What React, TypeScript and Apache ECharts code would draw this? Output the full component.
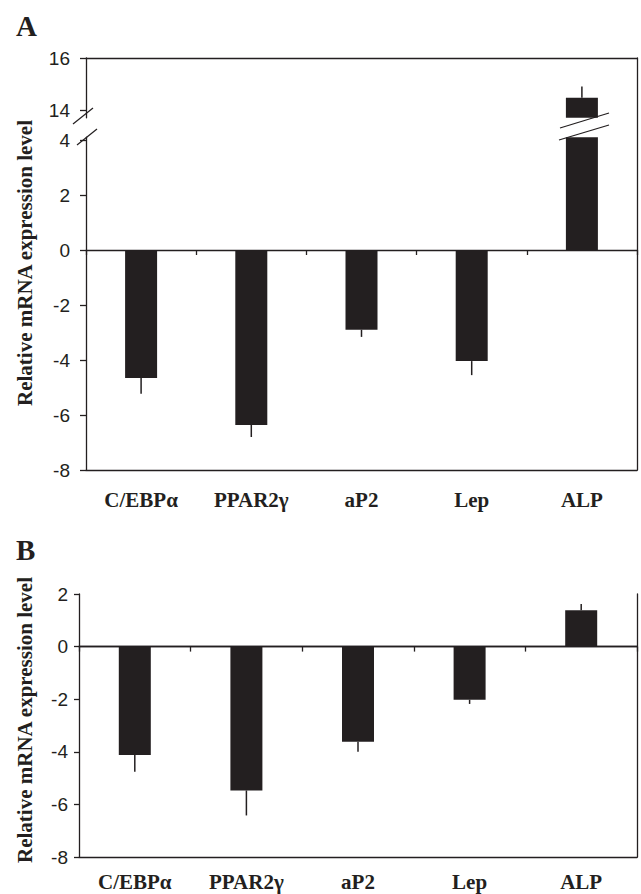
import React, { useEffect, useRef } from "react";
import * as echarts from "echarts";

const categories = ["C/EBPα", "PPAR2γ", "aP2", "Lep", "ALP"];
// Panel A (ALP is on the upper, broken segment)
const valuesA = [-4.65, -6.36, -2.9, -4.04, 14.47];
const errorsA = [0.58, 0.44, 0.26, 0.51, 0.43];
// Panel B
const valuesB = [-4.12, -5.47, -3.62, -2.02, 1.38];
const errorsB = [0.64, 0.95, 0.38, 0.16, 0.24];

const ticksAUpper = [14, 16];
const ticksALower = [-8, -6, -4, -2, 0, 2, 4];
const ticksB = [-8, -6, -4, -2, 0, 2];

const INK = "#231f20";
const SANS = "Liberation Sans, Arial, sans-serif";
const SERIF = "Liberation Serif, Times New Roman, serif";

const lineStyle = { color: INK, width: 1.3 };

function errData(values: number[], errors: number[], keep: (i: number) => boolean) {
  const out: any[] = [];
  values.forEach((v, i) => {
    if (!keep(i)) return;
    const end = v >= 0 ? v + errors[i] : v - errors[i];
    out.push([i, v, end]);
  });
  return out;
}

const renderErr = (params: any, api: any) => {
  const idx = api.value(0);
  const p1 = api.coord([idx, api.value(1)]);
  const p2 = api.coord([idx, api.value(2)]);
  return {
    type: "line",
    shape: { x1: p1[0], y1: p1[1], x2: p2[0], y2: p2[1] },
    style: { stroke: INK, lineWidth: 1.5 },
  };
};

const yLabel = (margin: number, custom?: number[]) => ({
  show: true,
  fontFamily: SANS,
  fontSize: 19,
  color: INK,
  margin,
  ...(custom ? { customValues: custom } : {}),
});

const xLabel = (margin: number) => ({
  show: true,
  fontFamily: SERIF,
  fontWeight: "bold",
  fontSize: 21,
  color: INK,
  margin,
});

export default function App() {
  const ref = useRef<HTMLDivElement>(null);
  useEffect(() => {
    document.body.style.margin = "0";
    if (!ref.current) return;
    const chart = echarts.init(ref.current, null, { renderer: "svg" });
    const isALP = (i: number) => i === 4;
    const option: any = {
      animation: false,
      backgroundColor: "#ffffff",
      grid: [
        { left: 86, right: 4, top: 58, height: 59.8 },
        { left: 86, right: 4, top: 137.25, height: 332.75 },
        { left: 86, right: 4, top: 58, height: 412 },
        { left: 79, right: 4, top: 594, height: 263 },
      ],
      xAxis: [
        {
          gridIndex: 0, type: "category", data: categories, position: "top",
          axisLine: { show: true, lineStyle }, axisTick: { show: false }, axisLabel: { show: false },
        },
        {
          gridIndex: 1, type: "category", data: categories, position: "bottom",
          axisLine: { show: true, onZero: true, lineStyle },
          axisTick: { show: true, length: 5, lineStyle }, axisLabel: { show: false },
        },
        {
          gridIndex: 1, type: "category", data: categories, position: "bottom",
          axisLine: { show: true, onZero: false, lineStyle },
          axisTick: { show: false }, axisLabel: xLabel(19),
        },
        { gridIndex: 2, type: "category", data: categories, show: false },
        {
          gridIndex: 3, type: "category", data: categories, position: "bottom",
          axisLine: { show: true, onZero: true, lineStyle },
          axisTick: { show: true, length: 5, lineStyle }, axisLabel: { show: false },
        },
        {
          gridIndex: 3, type: "category", data: categories, position: "bottom",
          axisLine: { show: true, onZero: false, lineStyle },
          axisTick: { show: false }, axisLabel: xLabel(14),
        },
        {
          gridIndex: 3, type: "category", data: categories, position: "top",
          axisLine: { show: true, lineStyle }, axisTick: { show: false }, axisLabel: { show: false },
        },
      ],
      yAxis: [
        {
          gridIndex: 0, type: "value", min: 13.7, max: 16,
          axisLine: { show: true, lineStyle },
          axisTick: { show: true, length: 6, lineStyle, customValues: ticksAUpper },
          axisLabel: yLabel(16, ticksAUpper), splitLine: { show: false },
        },
        {
          gridIndex: 1, type: "value", min: -8, max: 4.1,
          axisLine: { show: true, lineStyle },
          axisTick: { show: true, length: 6, lineStyle, customValues: ticksALower },
          axisLabel: yLabel(16, ticksALower), splitLine: { show: false },
        },
        {
          gridIndex: 2, type: "value", position: "right", min: 0, max: 1,
          axisLine: { show: true, lineStyle }, axisTick: { show: false },
          axisLabel: { show: false }, splitLine: { show: false },
        },
        {
          gridIndex: 3, type: "value", min: -8, max: 2, interval: 2,
          axisLine: { show: true, lineStyle },
          axisTick: { show: true, length: 5, lineStyle, customValues: ticksB },
          axisLabel: yLabel(11, ticksB), splitLine: { show: false },
        },
        {
          gridIndex: 3, type: "value", position: "right", min: -8, max: 2, interval: 2,
          axisLine: { show: true, lineStyle }, axisTick: { show: false },
          axisLabel: { show: false }, splitLine: { show: false },
        },
      ],
      series: [
        {
          type: "bar", xAxisIndex: 0, yAxisIndex: 0, barWidth: 32, clip: true,
          data: valuesA.map((v, i) => (isALP(i) ? v : "-")),
          itemStyle: { color: INK },
        },
        {
          type: "bar", xAxisIndex: 2, yAxisIndex: 1, barWidth: 32, clip: true,
          data: valuesA, itemStyle: { color: INK },
        },
        {
          type: "custom", xAxisIndex: 0, yAxisIndex: 0, renderItem: renderErr,
          data: errData(valuesA, errorsA, (i) => isALP(i)), z: 3,
        },
        {
          type: "custom", xAxisIndex: 2, yAxisIndex: 1, renderItem: renderErr,
          data: errData(valuesA, errorsA, (i) => !isALP(i)), z: 3,
        },
        {
          type: "bar", xAxisIndex: 5, yAxisIndex: 3, barWidth: 32,
          data: valuesB, itemStyle: { color: INK },
        },
        {
          type: "custom", xAxisIndex: 5, yAxisIndex: 3, renderItem: renderErr,
          data: errData(valuesB, errorsB, () => true), z: 3,
        },
      ],
      graphic: [
        { type: "text", left: 16, top: 11, style: { text: "A", font: `bold 29px ${SERIF}`, fill: INK } },
        { type: "text", left: 16, top: 535, style: { text: "B", font: `bold 29px ${SERIF}`, fill: INK } },
        {
          type: "text", x: 25, y: 263, rotation: Math.PI / 2,
          style: { text: "Relative mRNA expression level", font: `bold 21px ${SERIF}`, fill: INK, align: "center", verticalAlign: "middle" },
        },
        {
          type: "text", x: 25, y: 720, rotation: Math.PI / 2,
          style: { text: "Relative mRNA expression level", font: `bold 21px ${SERIF}`, fill: INK, align: "center", verticalAlign: "middle" },
        },
        { type: "line", shape: { x1: 73, y1: 124, x2: 93, y2: 108 }, style: { stroke: INK, lineWidth: 1.3 }, z: 10 },
        { type: "line", shape: { x1: 77, y1: 145, x2: 97, y2: 129 }, style: { stroke: INK, lineWidth: 1.3 }, z: 10 },
        { type: "line", shape: { x1: 560, y1: 128, x2: 609, y2: 113 }, style: { stroke: INK, lineWidth: 1.3 }, z: 10 },
        { type: "line", shape: { x1: 559, y1: 140, x2: 609, y2: 125 }, style: { stroke: INK, lineWidth: 1.3 }, z: 10 },
      ],
    };
    chart.setOption(option);
    return () => chart.dispose();
  }, []);
  return <div ref={ref} style={{ width: 641, height: 894 }} />;
}
